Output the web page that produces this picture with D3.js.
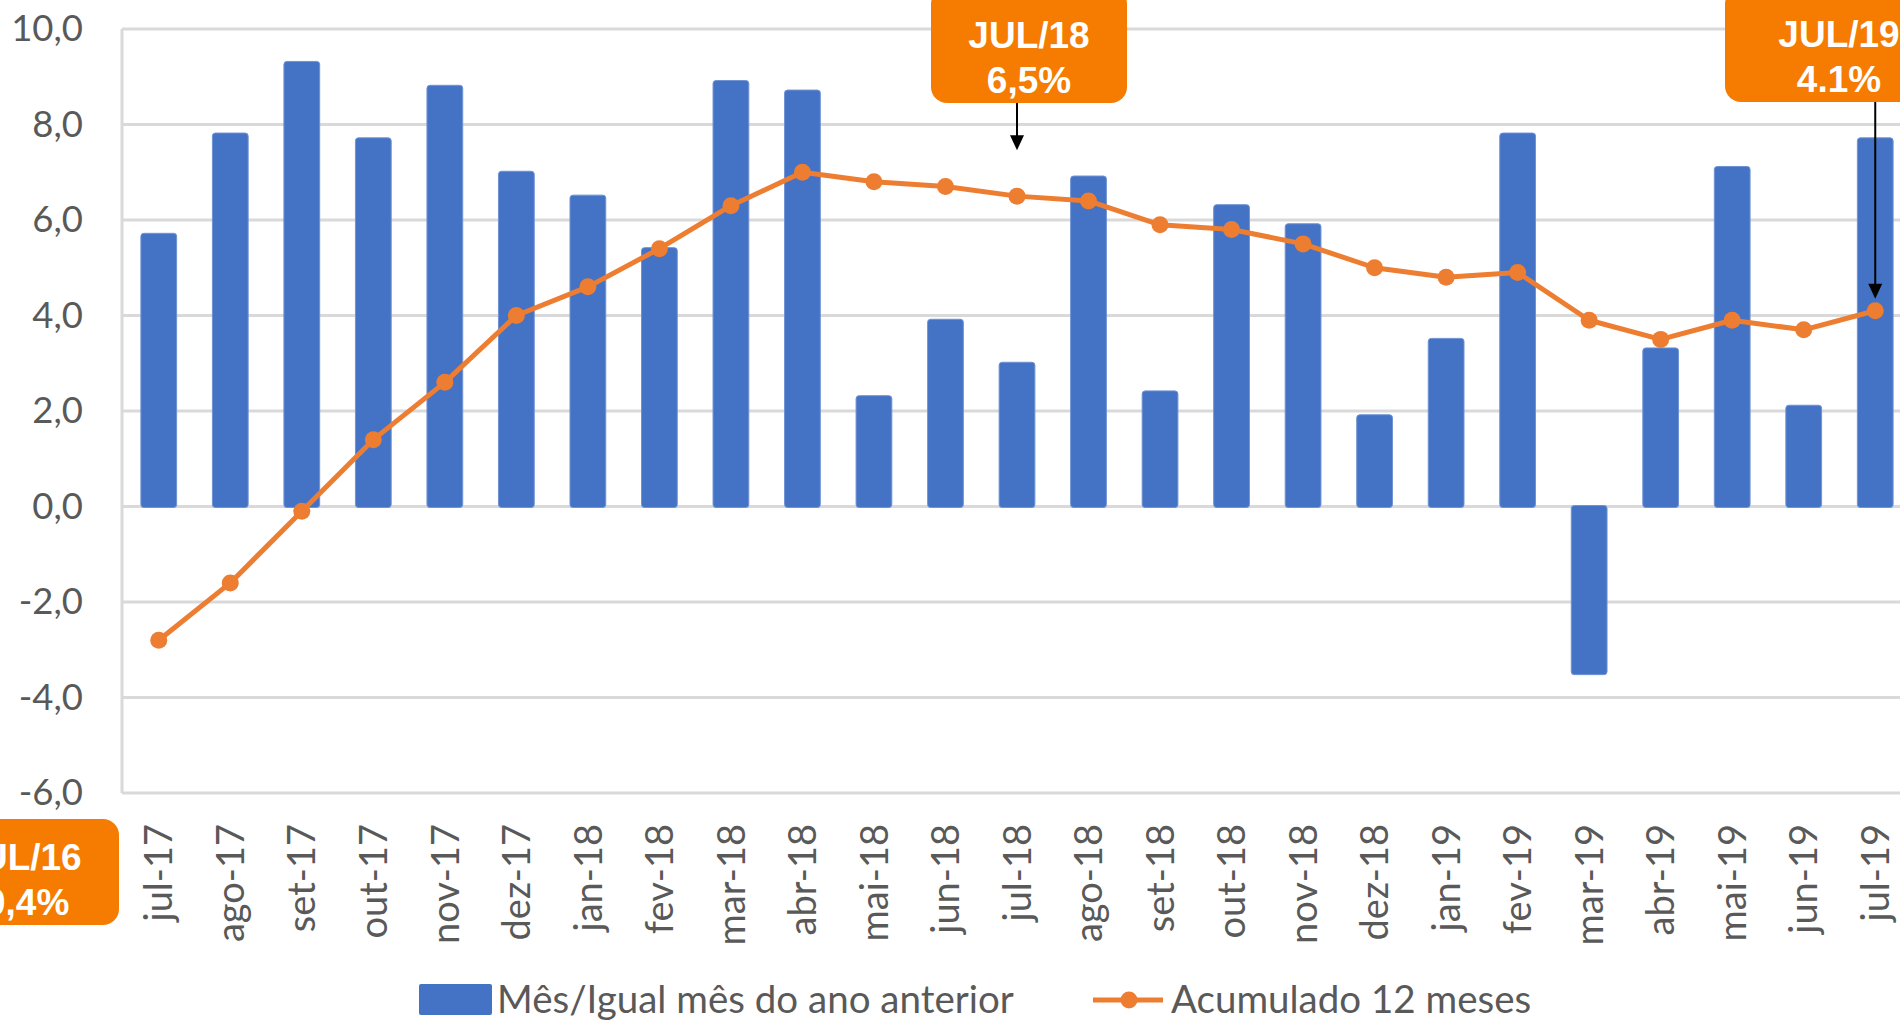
<!DOCTYPE html>
<html>
<head>
<meta charset="utf-8">
<script src="https://d3js.org/d3.v7.min.js"></script>
<style>
  body { margin: 0; background: #fff; }
  svg { display: block; }
</style>
</head>
<body>
<svg id="chart" width="1900" height="1020"></svg>
<script>
// ==========
// DATA
// ==========
var months = ["jul-17", "ago-17", "set-17", "out-17", "nov-17", "dez-17", "jan-18", "fev-18",
  "mar-18", "abr-18", "mai-18", "jun-18", "jul-18", "ago-18", "set-18", "out-18", "nov-18",
  "dez-18", "jan-19", "fev-19", "mar-19", "abr-19", "mai-19", "jun-19", "jul-19"];

// Mês/Igual mês do ano anterior
var monthly = [5.7, 7.8, 9.3, 7.7, 8.8, 7.0, 6.5, 5.4, 8.9, 8.7, 2.3, 3.9, 3.0, 6.9, 2.4, 6.3,
  5.9, 1.9, 3.5, 7.8, -3.5, 3.3, 7.1, 2.1, 7.7];

// Acumulado 12 meses
var accum12 = [-2.8, -1.6, -0.1, 1.4, 2.6, 4.0, 4.6, 5.4, 6.3, 7.0, 6.8, 6.7, 6.5, 6.4, 5.9, 5.8,
  5.5, 5.0, 4.8, 4.9, 3.9, 3.5, 3.9, 3.7, 4.1];

var yTicks = [-6, -4, -2, 0, 2, 4, 6, 8, 10];

var seriesNames = ["Mês/Igual mês do ano anterior", "Acumulado 12 meses"];

// callout boxes
var calloutTitles = ["JUL/16", "JUL/18", "JUL/19"];
var calloutValues = ["-0,4%", "6,5%", "4.1%"];
var calloutMonths = [null, "jul-18", "jul-19"];

// ==========
// MAIN
// ==========
var svg = d3.select("#chart");
var blue = "#4472c4", orange = "#ed7d31", boxOrange = "#f57c00",
  grid = "#d9d9d9", textGray = "#595959";
var labelFont = "Lato, 'Open Sans', sans-serif";
var boxFont = "'Liberation Sans', Arial, sans-serif";

var x = d3.scaleBand()
  .domain(months)
  .range([123, 1911])
  .padding(0);

var y = d3.scaleLinear()
  .domain([-6, 10])
  .range([793, 29]);

// gridlines
svg.append("g")
  .selectAll("line")
  .data(yTicks)
  .enter().append("line")
  .attr("x1", 122)
  .attr("x2", 1900)
  .attr("y1", function (d) { return y(d); })
  .attr("y2", function (d) { return y(d); })
  .attr("stroke", grid)
  .attr("stroke-width", 3);

// left axis line
svg.append("line")
  .attr("x1", 122).attr("x2", 122)
  .attr("y1", y(10)).attr("y2", y(-6))
  .attr("stroke", grid)
  .attr("stroke-width", 3);

// y axis labels
var yAxis = d3.axisLeft(y)
  .tickValues(yTicks)
  .tickSize(0)
  .tickPadding(0)
  .tickFormat(function (d) { return d3.format(".1f")(d).replace(".", ",").replace("−", "-"); });

var gy = svg.append("g")
  .attr("transform", "translate(83,0)")
  .call(yAxis);
gy.select(".domain").remove();
gy.selectAll("text")
  .attr("font-family", labelFont)
  .attr("font-size", "36.5px")
  .attr("fill", textGray);

// x axis labels (rotated)
var xAxis = d3.axisBottom(x).tickSize(0).tickPadding(0);
var gx = svg.append("g")
  .attr("transform", "translate(0,824)")
  .call(xAxis);
gx.select(".domain").remove();
gx.selectAll("text")
  .attr("font-family", labelFont)
  .attr("font-size", "38px")
  .attr("fill", textGray)
  .attr("text-anchor", "end")
  .attr("transform", "rotate(-90)")
  .attr("x", 0)
  .attr("y", 0)
  .attr("dx", 0)
  .attr("dy", "0.36em");

// bars
var barW = x.bandwidth() * 0.5;
svg.append("g")
  .selectAll("rect")
  .data(monthly)
  .enter().append("rect")
  .attr("x", function (d, i) { return x(months[i]) + (x.bandwidth() - barW) / 2; })
  .attr("y", function (d) { return y(Math.max(0, d)) - 1; })
  .attr("width", barW)
  .attr("height", function (d) { return Math.abs(y(d) - y(0)) + 2; })
  .attr("rx", 3)
  .attr("fill", blue)
  .attr("stroke", "#6f93d4")
  .attr("stroke-width", 1);

// line
var lineGen = d3.line()
  .x(function (d, i) { return x(months[i]) + x.bandwidth() / 2; })
  .y(function (d) { return y(d); });

svg.append("path")
  .datum(accum12)
  .attr("d", lineGen)
  .attr("fill", "none")
  .attr("stroke", orange)
  .attr("stroke-width", 5)
  .attr("stroke-linejoin", "round");

svg.append("g")
  .selectAll("circle")
  .data(accum12)
  .enter().append("circle")
  .attr("cx", function (d, i) { return x(months[i]) + x.bandwidth() / 2; })
  .attr("cy", function (d) { return y(d); })
  .attr("r", 8.5)
  .attr("fill", orange);

// ####################
// # callouts
// ####################
// box centre x, top y, width, height for each callout
var boxGeo = [
  { cx: 21, top: 819, w: 196, h: 106 },
  { cx: 1029, top: -12, w: 196, h: 115 },
  { cx: 1839, top: -12, w: 228, h: 114 }
];

calloutTitles.forEach(function (t, i) {
  var g = boxGeo[i];
  svg.append("rect")
    .attr("x", g.cx - g.w / 2)
    .attr("y", g.top)
    .attr("width", g.w)
    .attr("height", g.h)
    .attr("rx", 16)
    .attr("fill", boxOrange);

  var bottom = g.top + g.h;
  svg.append("text")
    .attr("x", g.cx)
    .attr("y", bottom - 55)
    .attr("text-anchor", "middle")
    .attr("font-family", boxFont)
    .attr("font-weight", "bold")
    .attr("font-size", "37px")
    .attr("fill", "#fff")
    .text(t);
  svg.append("text")
    .attr("x", g.cx)
    .attr("y", bottom - 10)
    .attr("text-anchor", "middle")
    .attr("font-family", boxFont)
    .attr("font-weight", "bold")
    .attr("font-size", "37px")
    .attr("fill", "#fff")
    .text(calloutValues[i]);

  if (calloutMonths[i] !== null) {
    var idx = months.indexOf(calloutMonths[i]);
    var ax = x(calloutMonths[i]) + x.bandwidth() / 2;
    var tipY = y(accum12[idx]) - (i === 1 ? 46 : 12);
    svg.append("line")
      .attr("x1", ax).attr("x2", ax)
      .attr("y1", bottom).attr("y2", tipY - 12)
      .attr("stroke", "#000")
      .attr("stroke-width", 2);
    svg.append("path")
      .attr("d", "M" + (ax - 7) + "," + (tipY - 15) + "L" + (ax + 7) + "," + (tipY - 15) + "L" + ax + "," + tipY + "Z")
      .attr("fill", "#000");
  }
});

// ####################
// # legend
// ####################
var legend = svg.append("g");
legend.append("rect")
  .attr("x", 419).attr("y", 984)
  .attr("width", 73).attr("height", 31)
  .attr("rx", 2)
  .attr("fill", blue);
legend.append("text")
  .attr("x", 497).attr("y", 1013)
  .attr("font-family", labelFont)
  .attr("font-size", "38.5px")
  .attr("fill", textGray)
  .text(seriesNames[0]);

legend.append("line")
  .attr("x1", 1093).attr("x2", 1163)
  .attr("y1", 1000).attr("y2", 1000)
  .attr("stroke", orange)
  .attr("stroke-width", 5);
legend.append("circle")
  .attr("cx", 1129).attr("cy", 1000)
  .attr("r", 8.5)
  .attr("fill", orange);
legend.append("text")
  .attr("x", 1171).attr("y", 1013)
  .attr("font-family", labelFont)
  .attr("font-size", "38.5px")
  .attr("fill", textGray)
  .text(seriesNames[1]);
</script>
</body>
</html>
